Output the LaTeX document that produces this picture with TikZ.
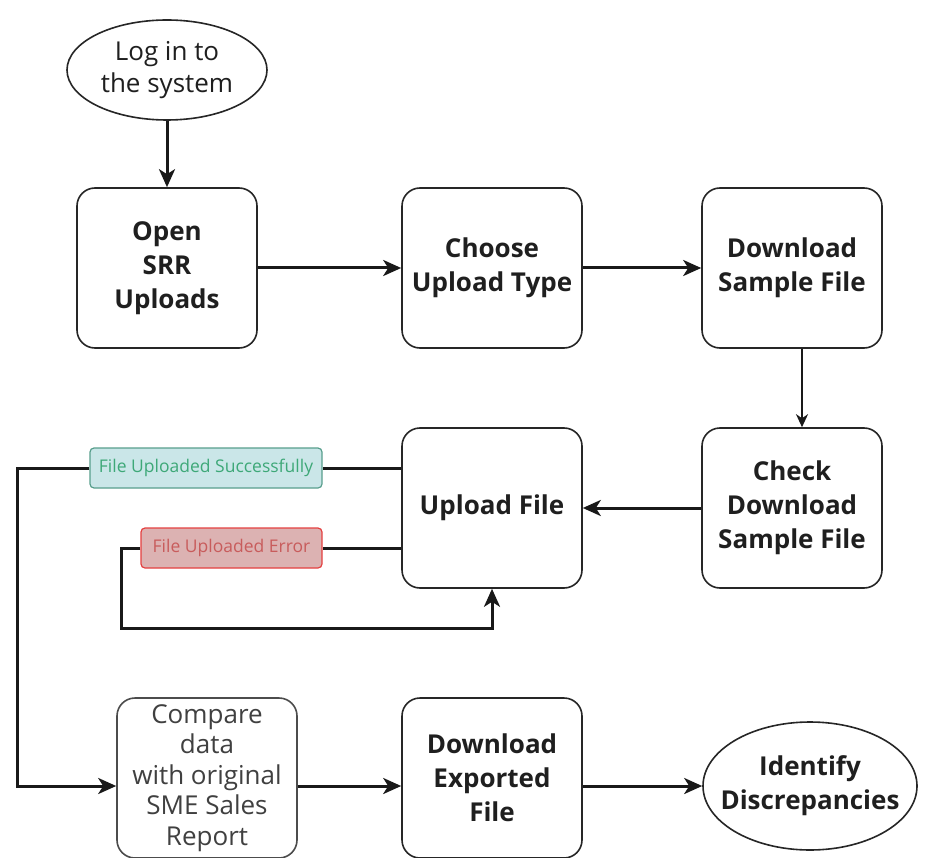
\documentclass[tikz,border=0pt]{standalone}
\usepackage{fontspec}
\setmainfont{Open Sans}
\usepackage{tikz}
\usetikzlibrary{shapes.geometric,arrows.meta,positioning}
\usepackage{xcolor}
\definecolor{okfill}{RGB}{202,230,232}
\definecolor{okdraw}{RGB}{88,158,140}
\definecolor{oktext}{RGB}{62,168,120}
\definecolor{errfill}{RGB}{220,178,178}
\definecolor{errdraw}{RGB}{228,64,64}
\definecolor{errtext}{RGB}{200,92,92}

\begin{document}
\begin{tikzpicture}[x=1pt, y=-1pt,
    stepbox/.style={rectangle, draw=black!85, line width=1.6pt, fill=white,
        minimum width=180pt, minimum height=160pt, rounded corners=18pt,
        align=center, text=black!88, font=\bfseries\fontsize{26}{34}\selectfont},
    plainbox/.style={stepbox, draw=black!70, text=black!75,
        font=\fontsize{26}{30.5}\selectfont},
    terminal/.style={ellipse, draw=black!85, line width=1.6pt, fill=white,
        inner sep=0pt, align=center, text=black!88},
    tag/.style={rectangle, rounded corners=4pt, line width=1.2pt,
        minimum height=40pt, inner xsep=5pt, font=\fontsize{17.5}{20}\selectfont},
    flow/.style={-{Stealth[length=18pt, width=16pt, inset=5pt]}, line width=3pt, black!90},
    link/.style={line width=3pt, black!90},
    thinflow/.style={-{Stealth[length=13pt, width=12pt, inset=4pt]}, line width=1.6pt, black!90}
]
    \useasboundingbox (0,0) rectangle (928,858);

    % start
    \node[terminal, minimum width=200pt, minimum height=100pt,
        font=\fontsize{26}{32}\selectfont] (login) at (167,70) {Log in to\\the system};

    % first row
    \node[stepbox] (open) at (167,268) {Open\\SRR\\Uploads};
    \node[stepbox] (type) at (492,268) {Choose\\Upload Type};
    \node[stepbox] (dls) at (792,268) {Download\\Sample File};

    % second row
    \node[stepbox] (chk) at (792,508) {Check\\Download\\Sample File};
    \node[stepbox] (up) at (492,508) {Upload File};
    \node[tag, draw=okdraw, fill=okfill, text=oktext, minimum width=232pt] (ok) at (206,468) {File Uploaded Successfully};
    \node[tag, draw=errdraw, fill=errfill, text=errtext, minimum width=181pt] (err) at (231.5,548) {File Uploaded Error};

    % last row
    \node[plainbox] (cmp) at (207,778) {Compare\\data\\with original\\SME Sales\\Report};
    \node[stepbox] (exp) at (492,778) {Download\\Exported\\File};
    \node[terminal, inner xsep=-16pt, minimum width=214pt, minimum height=128pt,
        font=\bfseries\fontsize{26}{34}\selectfont] (ident) at (810,786) {Identify\\Discrepancies};

    \coordinate (okturn) at (17,786);
    \coordinate (errturn) at (121,628);

    \draw[flow] (login) -- (open);
    \draw[flow] (open) -- (type);
    \draw[flow] (type) -- (dls);
    \draw[thinflow] ([xshift=10pt]dls.south) -- ([xshift=10pt]chk.north);
    \draw[flow] (chk) -- (up);

    % upload outcomes
    \draw[link] (up.west |- ok) -- (ok.east);
    \draw[flow] (ok.west) -| (okturn) -- (cmp.west |- okturn);
    \draw[link] (up.west |- err) -- (err.east);
    \draw[flow] (err.west) -| (errturn) -| (up.south);

    \draw[flow] (cmp.east |- ident) -- (exp.west |- ident);
    \draw[flow] (exp.east |- ident) -- (ident.west);
\end{tikzpicture}
\end{document}
